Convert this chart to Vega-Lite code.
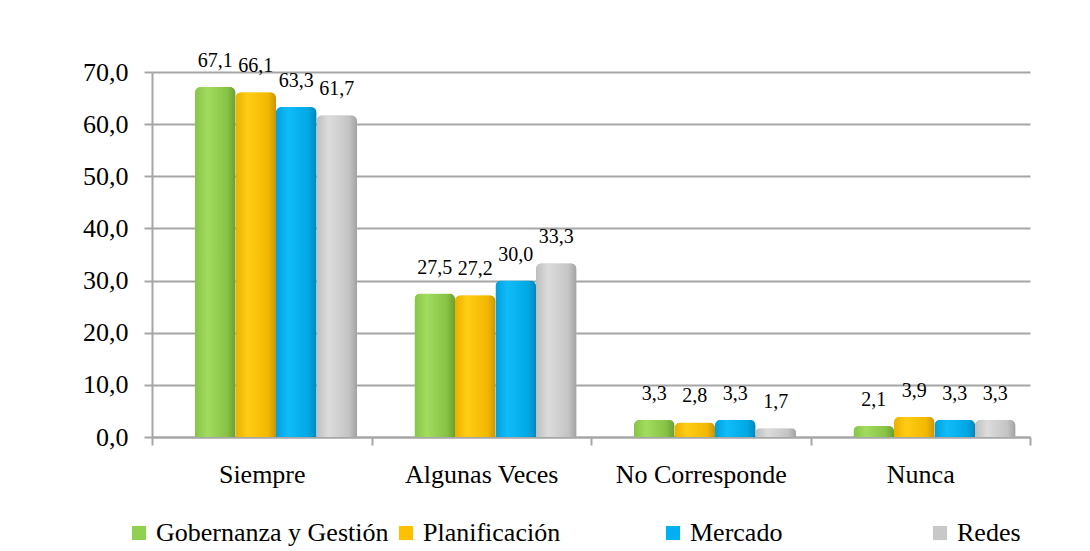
{
  "$schema": "https://vega.github.io/schema/vega-lite/v6.json",
  "width": 878,
  "height": 365,
  "autosize": {"type": "none"},
  "padding": {"left": 152, "top": 72, "right": 60, "bottom": 114},
  "background": "white",
  "config": {
    "locale": {"number": {"decimal": ",", "thousands": ".", "grouping": [3], "currency": ["", " €"]}},
    "font": "Liberation Serif",
    "view": {"stroke": null}
  },
  "data": {
    "values": [
      {"cat": "Siempre", "serie": "Gobernanza y Gestión", "v": 67.1},
      {"cat": "Siempre", "serie": "Planificación", "v": 66.1},
      {"cat": "Siempre", "serie": "Mercado", "v": 63.3},
      {"cat": "Siempre", "serie": "Redes", "v": 61.7},
      {"cat": "Algunas Veces", "serie": "Gobernanza y Gestión", "v": 27.5},
      {"cat": "Algunas Veces", "serie": "Planificación", "v": 27.2},
      {"cat": "Algunas Veces", "serie": "Mercado", "v": 30.0},
      {"cat": "Algunas Veces", "serie": "Redes", "v": 33.3},
      {"cat": "No Corresponde", "serie": "Gobernanza y Gestión", "v": 3.3},
      {"cat": "No Corresponde", "serie": "Planificación", "v": 2.8},
      {"cat": "No Corresponde", "serie": "Mercado", "v": 3.3},
      {"cat": "No Corresponde", "serie": "Redes", "v": 1.7},
      {"cat": "Nunca", "serie": "Gobernanza y Gestión", "v": 2.1},
      {"cat": "Nunca", "serie": "Planificación", "v": 3.9},
      {"cat": "Nunca", "serie": "Mercado", "v": 3.3},
      {"cat": "Nunca", "serie": "Redes", "v": 3.3}
    ]
  },
  "encoding": {
    "x": {
      "field": "cat", "type": "nominal", "sort": ["Siempre", "Algunas Veces", "No Corresponde", "Nunca"],
      "scale": {"paddingInner": 0, "paddingOuter": 0},
      "axis": {"title": null, "labelAngle": 0, "labelFontSize": 26, "labelColor": "black", "labelPadding": 16,
               "domainColor": "#A6A6A6", "domainWidth": 2, "ticks": true, "tickBand": "extent",
               "tickSize": 8, "tickColor": "#A6A6A6", "tickWidth": 2}
    },
    "xOffset": {"field": "serie", "type": "nominal", "sort": ["Gobernanza y Gestión", "Planificación", "Mercado", "Redes"],
                "scale": {"range": [43, 205], "paddingInner": 0, "paddingOuter": 0}},
    "y": {
      "field": "v", "type": "quantitative",
      "scale": {"domain": [0, 70]},
      "axis": {"title": null, "values": [0, 10, 20, 30, 40, 50, 60, 70], "format": ".1f",
               "labelFontSize": 26, "labelColor": "black", "labelPadding": 16, "tickSize": 8,
               "tickColor": "#A6A6A6", "tickWidth": 2, "domainColor": "#A6A6A6", "domainWidth": 2,
               "gridColor": "#A6A6A6", "gridWidth": 2}
    }
  },
  "layer": [
    {
      "mark": {"type": "bar", "cornerRadiusTopLeft": 6, "cornerRadiusTopRight": 6},
      "encoding": {
        "color": {
          "field": "serie", "type": "nominal",
          "sort": ["Gobernanza y Gestión", "Planificación", "Mercado", "Redes"],
          "scale": {"domain": ["Gobernanza y Gestión", "Planificación", "Mercado", "Redes"],
                    "range": ["#92D050", "#FFC000", "#00B0F0", "#C8C8C8"]},
          "legend": {"title": null, "orient": "none", "legendX": -26, "legendY": 448, "direction": "horizontal",
                     "symbolType": "square", "symbolSize": 200, "symbolStrokeWidth": 0,
                     "labelFontSize": 26, "labelColor": "black", "labelOffset": 4,
                     "gridAlign": "all", "columnPadding": 4, "labelLimit": 400}
        }
      }
    },
    {
      "transform": [{"filter": "datum.serie === 'Gobernanza y Gestión'"}],
      "mark": {"type": "bar", "cornerRadiusTopLeft": 6, "cornerRadiusTopRight": 6,
               "color": {"gradient": "linear", "x1": 0, "y1": 0, "x2": 1, "y2": 0,
                         "stops": [{"offset": 0, "color": "#86C448"}, {"offset": 0.3, "color": "#A2DC5E"}, {"offset": 0.8, "color": "#86C244"}, {"offset": 1, "color": "#6A9E32"}]}}
    },
    {
      "transform": [{"filter": "datum.serie === 'Planificación'"}],
      "mark": {"type": "bar", "cornerRadiusTopLeft": 6, "cornerRadiusTopRight": 6,
               "color": {"gradient": "linear", "x1": 0, "y1": 0, "x2": 1, "y2": 0,
                         "stops": [{"offset": 0, "color": "#EBB000"}, {"offset": 0.3, "color": "#FFCC14"}, {"offset": 0.8, "color": "#F2B800"}, {"offset": 1, "color": "#CC9400"}]}}
    },
    {
      "transform": [{"filter": "datum.serie === 'Mercado'"}],
      "mark": {"type": "bar", "cornerRadiusTopLeft": 6, "cornerRadiusTopRight": 6,
               "color": {"gradient": "linear", "x1": 0, "y1": 0, "x2": 1, "y2": 0,
                         "stops": [{"offset": 0, "color": "#00A0DC"}, {"offset": 0.3, "color": "#10BCF8"}, {"offset": 0.8, "color": "#00A8E4"}, {"offset": 1, "color": "#0086BA"}]}}
    },
    {
      "transform": [{"filter": "datum.serie === 'Redes'"}],
      "mark": {"type": "bar", "cornerRadiusTopLeft": 6, "cornerRadiusTopRight": 6,
               "color": {"gradient": "linear", "x1": 0, "y1": 0, "x2": 1, "y2": 0,
                         "stops": [{"offset": 0, "color": "#BEBEBE"}, {"offset": 0.3, "color": "#DCDCDC"}, {"offset": 0.8, "color": "#C4C4C4"}, {"offset": 1, "color": "#A2A2A2"}]}}
    },
    {
      "mark": {"type": "text", "baseline": "bottom", "dy": -16, "fontSize": 20, "color": "black"},
      "encoding": {"text": {"field": "v", "type": "quantitative", "format": ".1f"}}
    }
  ]
}
